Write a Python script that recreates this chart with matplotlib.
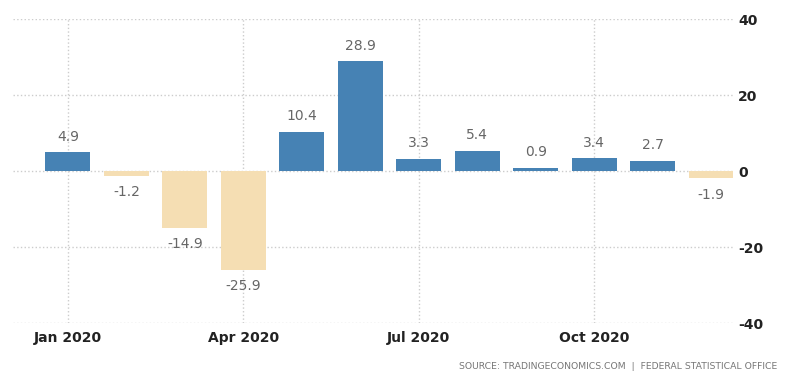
import numpy as np
import matplotlib.pyplot as plt

plt.rcParams['axes.unicode_minus'] = False

months = ['Jan', 'Feb', 'Mar', 'Apr', 'May', 'Jun', 'Jul', 'Aug', 'Sep', 'Oct', 'Nov', 'Dec']
values = [4.9, -1.2, -14.9, -25.9, 10.4, 28.9, 3.3, 5.4, 0.9, 3.4, 2.7, -1.9]
tick_positions = [0, 3, 6, 9]
tick_labels = ['Jan 2020', 'Apr 2020', 'Jul 2020', 'Oct 2020']
y_ticks = [-40, -20, 0, 20, 40]

pos_color = '#4682b4'
neg_color = '#f5deb3'

fig = plt.figure(figsize=(8, 3.81), dpi=100)
ax = fig.add_axes([0.01625, 0.152, 0.8996, 0.798])

x = np.arange(len(values))
colors = [pos_color if v >= 0 else neg_color for v in values]
ax.bar(x, values, width=0.77, color=colors, zorder=3)

for xi, v in zip(x, values):
    if v >= 0:
        ax.annotate(f'{v:.1f}', (xi, v), xytext=(0, 6), textcoords='offset points',
                    ha='center', va='bottom', fontsize=10, color='#666666')
    else:
        ax.annotate(f'{v:.1f}', (xi, v), xytext=(0, -7), textcoords='offset points',
                    ha='center', va='top', fontsize=10, color='#666666')

ax.set_xlim(-0.94, 11.37)
ax.set_ylim(-40, 40)
ax.set_yticks(y_ticks)
ax.set_xticks(tick_positions)
ax.set_xticklabels(tick_labels, fontweight='semibold')
ax.set_yticklabels([str(t) for t in y_ticks], fontweight='semibold')
ax.yaxis.tick_right()
ax.tick_params(axis='y', length=0, pad=4, labelsize=10, labelcolor='#222222')
ax.tick_params(axis='x', length=0, pad=6, labelsize=10, labelcolor='#222222')

ax.grid(True, linestyle=':', color='#cccccc', linewidth=1, zorder=0)
for s in ax.spines.values():
    s.set_visible(False)

fig.text(0.971, 0.026, 'SOURCE: TRADINGECONOMICS.COM  |  FEDERAL STATISTICAL OFFICE',
         ha='right', va='bottom', fontsize=6.7, color='#777777')

fig.savefig('out.png', dpi=100)
